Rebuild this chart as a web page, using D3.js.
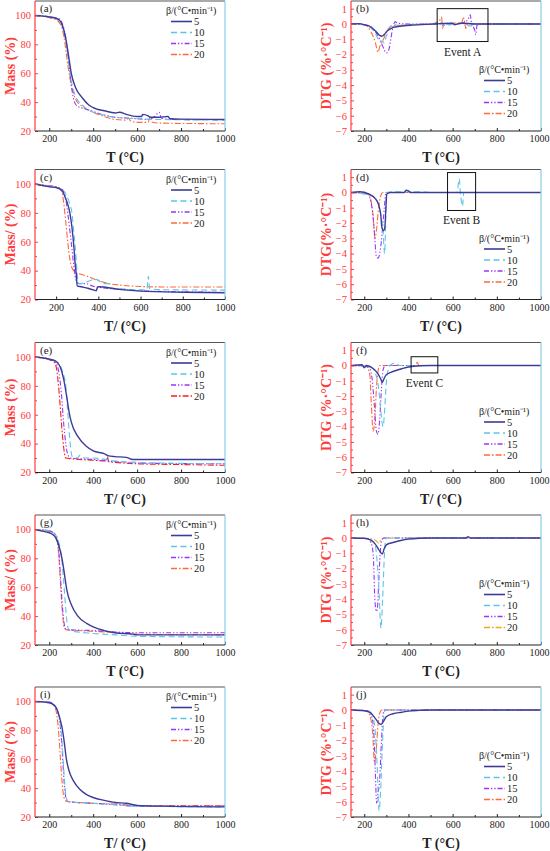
<!DOCTYPE html>
<html>
<head>
<meta charset="utf-8">
<script src="https://cdn.jsdelivr.net/npm/d3@7"></script>
<style>
  body { margin: 0; background: #fff; }
  svg text { font-family: "Liberation Serif", "Times New Roman", serif; }
</style>
</head>
<body>
<svg id="chart" width="550" height="851"></svg>
<script>
// heating rates and tick values
var rates = ["5", "10", "15", "20"];
var xTicks = [200, 400, 600, 800, 1000];
var xMinor = [300, 500, 700, 900];
var massTicks = [20, 40, 60, 80, 100];
var massMinor = [30, 50, 70, 90];
var dtgTicks = [-7, -6, -5, -4, -3, -2, -1, 0, 1];
var dtgMinor = [-6.5, -5.5, -4.5, -3.5, -2.5, -1.5, -0.5, 0.5];

// (a) mass, [T, %]
var a5 = [[135,100],[200,99],[240,97.5],[260,93],[275,84],[290,70],[300,60],[320,50],[350,43],[380,38],[410,35.5],[450,34],[500,32.5],[520,33],[550,31.5],[600,30],[620,30],[625,31.5],[650,30.5],[660,29.5],[700,29.5],[740,30],[750,28.5],[800,28.2],[1000,28]];
var a10 = [[135,100],[200,99],[240,97],[260,92],[275,82],[290,65],[300,55],[320,44],[350,38],[400,33],[450,31],[500,29.5],[600,28.5],[700,28],[1000,27.5]];
var a15 = [[135,100],[200,99],[240,98],[260,94],[275,85],[290,66],[300,52],[315,40],[330,37],[360,35.5],[400,33.5],[450,31],[500,29.5],[550,29],[600,28.5],[650,28],[680,30],[700,33],[710,29],[750,28],[1000,27.8]];
var a20 = [[135,100],[200,98.5],[240,96],[260,90],[270,82],[285,65],[300,52],[320,42],[350,37],[400,33],[450,30],[500,28],[550,27.5],[560,29],[570,27],[600,26],[650,26],[660,30],[670,26],[700,25.5],[1000,25]];

// (b) DTG, [T, %/°C]
var b5 = [[140,0],[180,0.02],[200,-0.05],[230,-0.2],[250,-0.45],[270,-0.75],[280,-0.8],[290,-0.7],[305,-0.45],[320,-0.3],[340,-0.2],[380,-0.12],[420,-0.08],[480,-0.03],[520,0],[600,0.05],[610,-0.05],[640,0.05],[700,0],[1000,0]];
var b10 = [[140,0],[200,-0.05],[240,-0.4],[260,-0.9],[270,-1.2],[280,-1.1],[290,-1.25],[300,-0.8],[315,-0.3],[330,0.05],[350,-0.1],[400,-0.05],[500,0],[550,0.1],[560,-0.1],[650,0.05],[680,-0.15],[700,0],[1000,0]];
var b15 = [[140,0],[220,-0.1],[250,-0.5],[270,-1],[285,-1.5],[300,-1.9],[310,-1.75],[320,-1],[330,-0.2],[340,0.15],[350,0.05],[400,0],[600,0],[650,0.1],[670,0.3],[680,0.6],[685,0.1],[700,-0.4],[705,-0.7],[710,-0.1],[730,0],[1000,0]];
var b20 = [[140,0],[200,-0.05],[230,-0.5],[250,-1.2],[262,-1.85],[270,-1.5],[280,-1.2],[290,-0.9],[300,-0.5],[310,-0.3],[320,-0.15],[400,-0.05],[500,0],[540,0.2],[550,0.45],[555,-0.3],[560,0],[640,0.1],[650,0.4],[660,-0.3],[665,0],[1000,0]];

// (c) mass
var c5 = [[100,100],[150,98.5],[170,98],[200,97.5],[230,95],[245,90],[255,86],[265,80],[275,70],[285,55],[290,45],[295,38],[300,29.5],[320,28.8],[350,27.8],[380,26.5],[390,26],[395,28],[400,28.8],[500,27],[600,25.8],[800,25],[1000,24.7]];
var c10 = [[100,100],[150,98.5],[200,97.5],[230,96],[250,92],[265,86],[275,80],[285,65],[295,48],[300,38],[305,31],[330,31.5],[360,33],[380,34],[400,33.5],[420,31],[450,31],[460,28],[500,27.5],[600,26.8],[630,26.8],[637,36],[643,27.5],[700,26.8],[1000,26.5]];
var c15 = [[100,100],[150,99],[200,98],[230,96],[245,90],[255,80],[265,68],[275,55],[285,42],[295,33],[310,31],[340,31],[380,29],[400,28.5],[500,27],[600,26],[800,25.3],[1000,25]];
var c20 = [[100,100],[150,99],[200,98],[225,96],[235,88],[245,75],[255,60],[265,48],[275,42],[290,39],[300,38.3],[350,36],[400,33],[450,31],[500,30],[600,29],[700,28.7],[1000,28.7]];

// (d) DTG
var d5 = [[140,0],[180,0.05],[220,-0.1],[250,-0.4],[265,-0.8],[275,-1.5],[280,-2.3],[287,-2.5],[293,-2.3],[298,-1],[302,-0.1],[320,0],[380,0],[390,0.15],[400,0.1],[410,0],[1000,0]];
var d10 = [[140,0],[230,-0.2],[255,-0.5],[265,-0.8],[275,-1.5],[285,-2.5],[292,-4],[297,-2],[300,0],[350,0.05],[450,0.05],[500,0],[620,0],[630,0.9],[635,0],[640,-0.6],[645,-0.9],[650,0],[1000,0]];
var d15 = [[140,0],[215,-0.1],[235,-1],[245,-2.5],[255,-4.2],[262,-4.3],[275,-3.5],[285,-2],[292,-0.8],[298,0],[1000,0]];
var d20 = [[140,0],[220,-0.1],[230,-0.5],[240,-1.5],[249,-3],[255,-2.5],[265,-1],[275,-0.2],[285,0],[1000,0]];

// (e) mass
var e5 = [[135,100],[200,98.5],[230,97],[250,93],[265,85],[280,72],[290,62],[300,55],[330,45],[370,38],[400,35],[450,33],[470,31.5],[500,31],[550,30.5],[580,29],[1000,29]];
var e10 = [[135,100],[200,98.5],[240,96],[260,90],[275,80],[285,60],[295,40],[305,31],[330,30],[340,32],[360,30],[400,30],[500,28],[600,27],[1000,26]];
var e15 = [[135,100],[200,98.5],[230,96],[245,88],[255,75],[265,55],[275,40],[285,32],[300,30],[400,29],[500,27.5],[600,26.5],[1000,26]];
var e20 = [[135,100],[200,98],[225,96],[235,90],[245,75],[255,55],[265,38],[275,30],[300,29.5],[400,28.5],[460,28],[465,31],[470,27.5],[500,27],[600,26],[800,25.5],[1000,25]];

// (f) DTG
var f5 = [[140,0],[190,0.05],[200,-0.15],[210,0],[240,-0.2],[260,-0.5],[275,-0.9],[282,-1.1],[290,-0.85],[300,-0.6],[320,-0.45],[350,-0.3],[400,-0.1],[450,-0.02],[500,0],[1000,0]];
var f10 = [[140,0],[230,-0.1],[250,-0.5],[265,-1.5],[275,-3],[285,-4],[292,-3],[298,-1.5],[305,-0.5],[320,0.05],[340,0.15],[360,0],[1000,0]];
var f15 = [[140,0],[220,-0.1],[235,-0.8],[245,-2.5],[255,-4.3],[262,-4.5],[270,-3.5],[278,-1.5],[285,-0.3],[295,0],[1000,0]];
var f20 = [[140,0],[210,-0.05],[225,-0.6],[232,-2.5],[240,-4.3],[248,-3.5],[255,-1.5],[262,-0.4],[270,0],[430,0],[440,0.2],[450,-0.1],[460,0],[1000,0]];

// (g) mass
var g5 = [[135,100],[180,98.5],[210,97],[230,94],[245,88],[260,78],[270,68],[280,58],[300,48],[330,40],[370,35],[400,32.5],[450,30],[500,28.5],[580,27.5],[600,27],[1000,27]];
var g10 = [[135,100],[200,99],[230,96],[245,90],[255,82],[265,65],[275,45],[285,32],[295,30],[400,28],[500,27],[600,26],[1000,25.5]];
var g15 = [[135,100],[200,99],[230,96],[240,90],[248,75],[256,55],[265,38],[275,31],[300,30.5],[400,30],[500,29],[600,28.5],[1000,28.5]];
var g20 = [[135,100],[200,99],[225,97],[238,90],[245,78],[252,60],[260,42],[268,32],[280,30.5],[400,29.5],[500,28.5],[600,27.5],[1000,27]];

// (h) DTG
var h5 = [[140,0],[200,-0.02],[230,-0.15],[250,-0.4],[265,-0.75],[282,-1.05],[290,-0.7],[300,-0.45],[330,-0.3],[370,-0.15],[400,-0.08],[450,-0.02],[500,0],[660,0],[670,0.08],[680,0],[1000,0]];
var h10 = [[140,0],[220,-0.05],[245,-0.3],[255,-1],[265,-3],[276,-5.9],[283,-4],[290,-1.5],[295,-0.3],[300,0],[1000,0]];
var h15 = [[140,0],[215,-0.05],[235,-0.5],[242,-1.5],[248,-4],[255,-4.8],[260,-4.5],[265,-3],[272,-1],[280,-0.1],[290,0],[1000,0]];
var h20 = [[140,0],[230,-0.05],[255,-0.2],[265,-0.35],[275,-0.15],[285,0],[1000,0]];

// (i) mass
var i5 = [[135,100],[180,99.5],[210,98.5],[230,96],[245,90],[258,82],[268,72],[278,60],[290,52],[310,45],[340,39],[370,35.5],[400,33.5],[450,31.5],[500,30],[550,29.5],[600,28],[700,27.5],[1000,27]];
var i10 = [[135,100],[200,99.5],[225,97],[240,92],[250,85],[258,72],[265,55],[272,40],[280,32],[290,30.5],[400,29.5],[500,28.5],[600,27.5],[1000,27]];
var i15 = [[135,100],[200,99.5],[225,97],[240,92],[250,83],[258,68],[265,50],[272,37],[280,31.5],[290,30.5],[400,29.5],[500,28.5],[600,27.5],[1000,27.5]];
var i20 = [[135,100],[200,99.5],[222,97],[235,90],[242,80],[250,62],[258,45],[265,35],[275,31],[300,30.5],[400,29.5],[500,29],[600,28],[700,28],[1000,28]];

// (j) DTG
var j5 = [[140,0],[200,-0.05],[230,-0.2],[250,-0.55],[265,-0.85],[276,-0.95],[285,-0.8],[300,-0.45],[330,-0.25],[370,-0.15],[400,-0.08],[450,-0.03],[500,0],[1000,0]];
var j10 = [[140,0],[220,-0.05],[240,-0.5],[250,-1.5],[258,-3.5],[267,-6.6],[275,-5],[283,-2],[290,-0.2],[295,0],[1000,0]];
var j15 = [[140,0],[215,-0.05],[235,-0.5],[245,-2],[250,-4],[256,-6.1],[262,-5.5],[270,-4.5],[278,-2],[285,-0.3],[290,0],[1000,0]];
var j20 = [[140,0],[210,-0.05],[228,-0.5],[238,-1.5],[246,-3.4],[255,-2.5],[262,-1],[270,-0.2],[280,0],[1000,0]];

// event boxes [T0, T1, top, bottom]
var eventA = [530, 760, 1.0, -1.15];
var eventB = [577, 704, 1.3, -1.18];
var eventC = [412, 533, 0.57, -0.49];

var colors = ["#3c3c98", "#5cc4e6", "#9933ff", "#ff6a3a"];
var dashes = [null, "6,3.5", "5,2,1.3,2,1.3,2", "6,2,1.6,2"];
var widths = [1.4, 1.1, 1.1, 1.1];

var panels = [
	{id: "a", col: 0, row: 0, kind: "mass", xmin: 135, data: [a5, a10, a15, a20], xt: "T (°C)", yt: "Mass (%)"},
	{id: "b", col: 1, row: 0, kind: "dtg", xmin: 140, data: [b5, b10, b15, b20], xt: "T (°C)", yt: "DTG (%·°C⁻¹)", ev: eventA, evText: "Event A"},
	{id: "c", col: 0, row: 1, kind: "mass", xmin: 100, data: [c5, c10, c15, c20], xt: "T/ (°C)", yt: "Mass/ (%)"},
	{id: "d", col: 1, row: 1, kind: "dtg", xmin: 140, data: [d5, d10, d15, d20], xt: "T/ (°C)", yt: "DTG(%·°C⁻¹)", ev: eventB, evText: "Event B"},
	{id: "e", col: 0, row: 2, kind: "mass", xmin: 135, data: [e5, e10, e15, e20], xt: "T/ (°C)", yt: "Mass (%)", c20: "#ff1a1a"},
	{id: "f", col: 1, row: 2, kind: "dtg", xmin: 140, data: [f5, f10, f15, f20], xt: "T/ (°C)", yt: "DTG (%·°C⁻¹)", ev: eventC, evText: "Event C"},
	{id: "g", col: 0, row: 3, kind: "mass", xmin: 135, data: [g5, g10, g15, g20], xt: "T (°C)", yt: "Mass/ (%)"},
	{id: "h", col: 1, row: 3, kind: "dtg", xmin: 140, data: [h5, h10, h15, h20], xt: "T (°C)", yt: "DTG (%·°C⁻¹)", c20: "#f7a21b"},
	{id: "i", col: 0, row: 4, kind: "mass", xmin: 135, data: [i5, i10, i15, i20], xt: "T/ (°C)", yt: "Mass/ (%)"},
	{id: "j", col: 1, row: 4, kind: "dtg", xmin: 140, data: [j5, j10, j15, j20], xt: "T (°C)", yt: "DTG (%·°C⁻¹)"}
];

var colX = [35, 351];
var rowTop = [1, 169.5, 342.5, 515, 687];
var plotW = 190, plotH = 130;
var red = "#ff3b3b";
var serif = "Liberation Serif, Times New Roman, serif";

var svg = d3.select("#chart");

panels.forEach(function (p) {
	var g = svg.append("g")
		.attr("transform", "translate(" + colX[p.col] + "," + rowTop[p.row] + ")");

	var x = d3.scaleLinear().domain([p.xmin, 1000]).range([0, plotW]);
	var y = p.kind == "mass"
		? d3.scaleLinear().domain([20, 110]).range([plotH, 0])
		: d3.scaleLinear().domain([-7, 1.5]).range([plotH, 0]);

	g.append("clipPath").attr("id", "clip-" + p.id)
		.append("rect").attr("width", plotW).attr("height", plotH);

	var pal = colors.slice();
	if (p.c20) pal[3] = p.c20;

	var line = d3.line()
		.x(function (d) { return x(d[0]); })
		.y(function (d) { return y(d[1]); })
		.curve(d3.curveMonotoneX);

	var lines = g.append("g").attr("clip-path", "url(#clip-" + p.id + ")");
	// draw 20 first so 5 sits on top
	[3, 2, 1, 0].forEach(function (k) {
		lines.append("path")
			.attr("d", line(p.data[k]))
			.attr("fill", "none")
			.attr("stroke", pal[k])
			.attr("stroke-width", widths[k])
			.attr("stroke-dasharray", dashes[k]);
	});

	// axes
	var xAxis = g.append("g").attr("transform", "translate(0," + plotH + ")")
		.call(d3.axisBottom(x).tickValues(xTicks).tickFormat(d3.format("d"))
			.tickSizeInner(-3).tickSizeOuter(0).tickPadding(4))
		.attr("font-family", serif);
	xAxis.select(".domain").remove();
	xAxis.selectAll("text").attr("font-size", 10).attr("fill", "#222");
	xAxis.selectAll("line").attr("stroke", "#222");
	if (p.col == 1) {
		xAxis.selectAll("text").filter(function (d) { return d == 1000; }).attr("dx", -2);
	}

	var xm = g.append("g").attr("transform", "translate(0," + plotH + ")")
		.call(d3.axisBottom(x).tickValues(xMinor).tickSizeInner(-2).tickSizeOuter(0).tickFormat(""));
	xm.select(".domain").remove();
	xm.selectAll("line").attr("stroke", "#222");

	var yt = p.kind == "mass" ? massTicks : dtgTicks;
	var ym = p.kind == "mass" ? massMinor : dtgMinor;
	var yAxis = g.append("g")
		.call(d3.axisLeft(y).tickValues(yt).tickSizeInner(-3).tickSizeOuter(0).tickPadding(4))
		.attr("font-family", serif);
	yAxis.select(".domain").remove();
	yAxis.selectAll("text").attr("font-size", 10.5).attr("fill", red);
	yAxis.selectAll("line").attr("stroke", red);

	var yMin = g.append("g")
		.call(d3.axisLeft(y).tickValues(ym).tickSizeInner(-2).tickSizeOuter(0).tickFormat(""));
	yMin.select(".domain").remove();
	yMin.selectAll("line").attr("stroke", red);

	// frame
	g.append("line").attr("x1", 0).attr("x2", plotW).attr("y1", 0).attr("y2", 0)
		.attr("stroke", "#555").attr("stroke-width", 1.2);
	g.append("line").attr("x1", plotW).attr("x2", plotW).attr("y1", 0).attr("y2", plotH)
		.attr("stroke", "#88cde8").attr("stroke-width", 1.2);
	g.append("line").attr("x1", 0).attr("x2", plotW).attr("y1", plotH).attr("y2", plotH)
		.attr("stroke", "#222").attr("stroke-width", 1.2);
	g.append("line").attr("x1", 0).attr("x2", 0).attr("y1", 0).attr("y2", plotH)
		.attr("stroke", red).attr("stroke-width", 1.2);

	// titles
	g.append("text")
		.attr("x", plotW / 2 - 5)
		.attr("y", plotH + 31)
		.attr("text-anchor", "middle")
		.attr("font-size", 14)
		.attr("font-weight", "bold")
		.attr("fill", "#222")
		.text(p.xt);

	g.append("text")
		.attr("transform", "translate(" + (-20) + "," + (plotH / 2) + ") rotate(-90)")
		.attr("text-anchor", "middle")
		.attr("font-size", 14)
		.attr("font-weight", "bold")
		.attr("fill", red)
		.text(p.yt);

	g.append("text")
		.attr("x", 5)
		.attr("y", 11)
		.attr("font-size", 11)
		.attr("fill", "#222")
		.text("(" + p.id + ")");

	// legend
	var lx = p.kind == "mass" ? 131 : 128;
	var ly = p.kind == "mass" ? 9.5 : 68.5;
	var leg = g.append("g").attr("transform", "translate(" + lx + "," + ly + ")");
	leg.append("text")
		.attr("x", 0).attr("y", 3.5)
		.attr("font-size", 10)
		.attr("fill", "#222")
		.text("β/(°C•min⁻¹)");

	leg.selectAll("g.item").data(rates)
		.enter()
		.append("g")
		.attr("class", "item")
		.each(function (d, i) {
			var it = d3.select(this);
			var cy = 11 + i * 11;
			it.append("line")
				.attr("x1", 5).attr("x2", 26)
				.attr("y1", cy).attr("y2", cy)
				.attr("stroke", pal[i])
				.attr("stroke-width", widths[i] + 0.2)
				.attr("stroke-dasharray", dashes[i]);
			it.append("text")
				.attr("x", 28).attr("y", cy + 3.5)
				.attr("font-size", 10.5)
				.attr("fill", "#222")
				.text(d);
		});

	// event box
	if (p.ev) {
		g.append("rect")
			.attr("x", x(p.ev[0]))
			.attr("y", y(p.ev[2]))
			.attr("width", x(p.ev[1]) - x(p.ev[0]))
			.attr("height", y(p.ev[3]) - y(p.ev[2]))
			.attr("fill", "none")
			.attr("stroke", "#111")
			.attr("stroke-width", 1);
		g.append("text")
			.attr("x", (x(p.ev[0]) + x(p.ev[1])) / 2)
			.attr("y", y(p.ev[3]) + 14)
			.attr("text-anchor", "middle")
			.attr("font-size", 11.5)
			.attr("fill", "#222")
			.text(p.evText);
	}
});
</script>
</body>
</html>
